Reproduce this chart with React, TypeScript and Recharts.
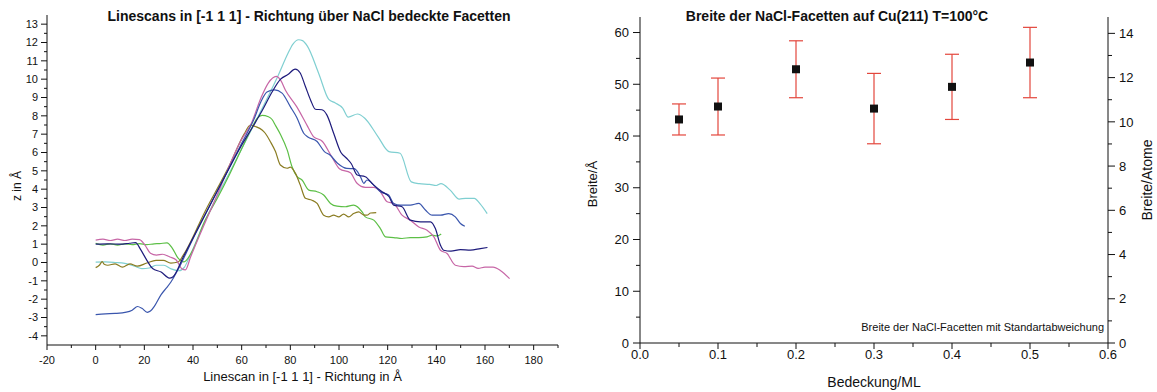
import React from 'react';
import { LineChart, Line, XAxis, YAxis, ScatterChart, Scatter, ErrorBar } from 'recharts';

const NARROW = '"Liberation Sans Narrow", "Arial Narrow", "Liberation Sans", Arial, sans-serif';
const INK = '#111';

// linescans, [x in Å, z in Å]
const scanCyan: [number, number][] = [
  [0, 0.02], [4, 0.03], [8, 0], [12, -0.05], [16, -0.2], [19, -0.33], [22, -0.3], [25, -0.15], [28, -0.15],
  [31, -0.35], [34.2, -0.45], [36.5, -0.25], [38.5, 0.3], [45, 2.3], [55, 4.9], [65, 7.5], [75, 10.2],
  [79, 11.4], [81, 11.9], [83.4, 12.15], [85, 12.1], [87, 11.8], [91.7, 10.3], [95.8, 8.9], [98.5, 8.7],
  [101.5, 8.42], [103.8, 7.93], [107.6, 8.1], [110.6, 7.87], [116, 6.87], [120.5, 6.05], [125.1, 5.96],
  [129.7, 4.4], [133, 4.3], [137.3, 4.26], [140, 4.2], [141.9, 4.3], [145.7, 3.95], [149.4, 3.46],
  [152, 3.5], [155.6, 3.5], [158, 3.2], [160.9, 2.67],
];

const scanNavy: [number, number][] = [
  [0, 1.0], [5, 1.02], [10, 1.0], [14, 1.05], [16.4, 1.08], [18.5, 0.7], [20.7, 0.2], [23.4, -0.33],
  [26.9, -0.52], [30.3, -0.85], [31.7, -0.79], [36, 0.3], [40.6, 1.49], [50, 3.9], [60, 6.4], [65, 7.5],
  [68.5, 8.3], [72.5, 9.3], [76, 10.0], [79, 10.25], [82, 10.55], [84, 10.35], [86.2, 9.6], [88.3, 8.87],
  [90.3, 8.36], [93, 8.33], [95, 8.05], [97.8, 7.05], [100.8, 6.0], [103, 5.7], [105, 5.4], [107.5, 4.77],
  [110.8, 4.68], [114.3, 4.22], [117.7, 3.86], [120.5, 3.6], [122.5, 3.13], [125.9, 3.04], [129.3, 2.31],
  [133.5, 2.22], [137.6, 2.22], [139.6, 1.85], [141.7, 0.94], [143, 0.67], [146, 0.62], [149.9, 0.7],
  [154, 0.68], [158.1, 0.76], [161, 0.82],
];

const scanPink: [number, number][] = [
  [0, 1.22], [3, 1.27], [6, 1.2], [9, 1.27], [12, 1.2], [15, 1.27], [18, 1.25], [20.5, 0.9], [22.5, 0.5],
  [25, 0.4], [27.5, 0.45], [30.5, 0.3], [33, 0.15], [35.4, -0.34], [36.9, -0.4], [39, 0.3], [50, 3.7],
  [59.5, 6.6], [64, 7.6], [68, 9.0], [71, 9.8], [74.2, 10.15], [76, 9.95], [78, 9.4], [82.6, 8.5],
  [87.2, 7.4], [89.5, 6.87], [93.2, 6.6], [97, 5.77], [100.3, 5.1], [104.7, 4.9], [107.4, 4.32],
  [110.8, 4.1], [114.3, 4.1], [117, 3.86], [119.8, 3.31], [122.5, 3.22], [125.9, 2.58], [129.3, 2.31],
  [132.8, 1.94], [136.2, 1.76], [139, 1.4], [141.7, 0.67], [144.4, 0.49], [147.8, -0.15], [151.3, -0.22],
  [154.7, -0.2], [157.2, -0.32], [160, -0.25], [163.3, -0.25], [166.3, -0.43], [170.1, -0.88],
];

const scanBlue: [number, number][] = [
  [0, -2.84], [4, -2.8], [8, -2.78], [12.6, -2.71], [15, -2.6], [17.2, -2.4], [19, -2.5], [21.2, -2.72],
  [22.5, -2.65], [24.3, -2.35], [26.9, -1.75], [29, -1.4], [31, -1.05], [33.8, -0.4], [40, 1.3],
  [50, 3.9], [60, 6.5], [65, 7.8], [68, 8.8], [70.4, 9.3], [73.5, 9.42], [76.6, 9.24], [80, 8.5],
  [82.7, 7.9], [85.5, 7.05], [87.2, 6.85], [91, 6.6], [94, 6.05], [96.3, 5.86], [99.4, 5.41],
  [103.2, 5.13], [106.3, 5.12], [108.8, 4.68], [110.2, 4.32], [111.5, 4.5], [114.3, 4.22], [117, 3.86],
  [120.4, 3.68], [122.5, 3.22], [125.2, 3.13], [129.3, 3.13], [132.8, 3.22], [135.5, 2.86],
  [138.3, 2.58], [141.7, 2.58], [145.1, 2.67], [147.8, 2.49], [149.9, 2.13], [151.7, 1.98],
];

const scanGreen: [number, number][] = [
  [0, 1.05], [3, 0.95], [6, 1.02], [9, 0.95], [12, 1.02], [15, 0.97], [18, 1.03], [21, 0.97], [24, 1.02],
  [26.3, 1.03], [29.3, 1.07], [31.6, 0.76], [33.8, 0.25], [36.3, 0.03], [39.2, 0.5], [45, 2.3],
  [50, 3.5], [55, 4.8], [60, 6.2], [64, 7.3], [66.3, 7.85], [68.4, 8.02], [71, 7.95], [72.5, 7.8],
  [74, 7.45], [75.9, 7.0], [78.7, 6.14], [80.7, 5.22], [82.8, 4.68], [84.8, 4.5], [87.6, 3.95],
  [91, 3.86], [93.7, 3.68], [96.5, 3.22], [99.2, 3.07], [102.6, 3.04], [106, 3.13], [109.5, 2.76],
  [110.8, 2.49], [114.3, 2.31], [117, 1.85], [119.1, 1.4], [122.5, 1.36], [125.9, 1.31], [129.3, 1.36],
  [132.8, 1.36], [136.2, 1.4], [138.3, 1.49], [140.3, 1.45], [142, 1.56],
];

const scanOlive: [number, number][] = [
  [0, -0.28], [1.5, -0.15], [2.7, 0.05], [3.5, -0.1], [5, -0.15], [8, -0.07], [11, -0.25], [14.1, -0.07],
  [17.1, -0.2], [21, -0.03], [24.8, 0.12], [27.8, 0.12], [30.9, -0.03], [33.9, 0.03], [36, 0.4],
  [45, 2.8], [55, 5.3], [61, 7.0], [63.6, 7.5], [65.6, 7.42], [68.4, 7.23], [69.7, 7.05], [71.8, 6.59],
  [73.9, 6.05], [75.9, 5.32], [78.7, 5.14], [80, 5.2], [82.1, 4.86], [84.1, 4.22], [86.2, 3.5],
  [88.9, 3.4], [91, 3.22], [93.7, 2.58], [95.8, 2.49], [97.8, 2.58], [99.9, 2.49], [101.9, 2.64],
  [104, 2.49], [106, 2.67], [108.1, 2.76], [110, 2.6], [111.5, 2.58], [113, 2.7], [115.3, 2.72],
];

const scans = [
  { id: 'cyan', color: '#7fcfd1', points: scanCyan },
  { id: 'green', color: '#5cbf46', points: scanGreen },
  { id: 'olive', color: '#8a7c22', points: scanOlive },
  { id: 'pink', color: '#c766a6', points: scanPink },
  { id: 'blue', color: '#3a56ad', points: scanBlue },
  { id: 'navy', color: '#1e1b7c', points: scanNavy },
];

const scanXTicks = [-20, -10, 0, 10, 20, 30, 40, 50, 60, 70, 80, 90, 100, 110, 120, 130, 140, 150, 160, 170, 180, 190];
const scanYTicks = Array.from({ length: 35 }, (_, i) => -4 + i * 0.5);

// facet widths vs coverage
const coverage = [0.05, 0.1, 0.2, 0.3, 0.4, 0.5];
const facetWidth = [43.2, 45.7, 52.9, 45.3, 49.5, 54.2];
const facetStd = [3.0, 5.5, 5.5, 6.8, 6.3, 6.8];

const covTicks = [0, 0.05, 0.1, 0.15, 0.2, 0.25, 0.3, 0.35, 0.4, 0.45, 0.5, 0.55, 0.6];
const widthTicks = [0, 5, 10, 15, 20, 25, 30, 35, 40, 45, 50, 55, 60];
const atomTicks = [0, 1, 2, 3, 4, 5, 6, 7, 8, 9, 10, 11, 12, 13, 14];

const facetData = coverage.map((x, i) => ({ x, y: facetWidth[i], err: facetStd[i] }));

type TickOpts = {
  side: 'left' | 'right' | 'bottom';
  major: (v: number) => boolean;
  fmt: (v: number) => string;
  size: number;
  long: number;
  short: number;
  gap: number;
};

function makeTick(o: TickOpts) {
  return function Tick(props: any) {
    const { x, y, payload } = props;
    const v = payload.value;
    const m = o.major(v);
    const len = m ? o.long : o.short;
    if (o.side === 'bottom') {
      return (
        <g>
          <line x1={x} x2={x} y1={y} y2={y + len} stroke={INK} />
          {m && (
            <text x={x} y={y + o.gap} textAnchor="middle" fontSize={o.size} fontFamily={NARROW} fill={INK}>
              {o.fmt(v)}
            </text>
          )}
        </g>
      );
    }
    const s = o.side === 'left' ? -1 : 1;
    return (
      <g>
        <line x1={x} x2={x + s * len} y1={y} y2={y} stroke={INK} />
        {m && (
          <text x={x + s * o.gap} y={y} dy="0.36em" textAnchor={s < 0 ? 'end' : 'start'} fontSize={o.size} fontFamily={NARROW} fill={INK}>
            {o.fmt(v)}
          </text>
        )}
      </g>
    );
  };
}

const xTitle = (text: string, dy: number, size: number) => (props: any) => {
  const vb = props.viewBox;
  return (
    <text x={vb.x + vb.width / 2} y={vb.y + dy} textAnchor="middle" fontSize={size} fontFamily={NARROW} fill={INK}>
      {text}
    </text>
  );
};

const yTitle = (text: string, dx: number, size: number, shift = 0) => (props: any) => {
  const vb = props.viewBox;
  const cx = vb.x + dx;
  const cy = vb.y + vb.height / 2 + shift;
  return (
    <text x={cx} y={cy} transform={`rotate(-90 ${cx} ${cy})`} textAnchor="middle" fontSize={size} fontFamily={NARROW} fill={INK}>
      {text}
    </text>
  );
};

const isInt = (v: number) => Math.abs(v - Math.round(v)) < 1e-6;

const ScanXTick = makeTick({ side: 'bottom', major: (v) => v % 20 === 0, fmt: String, size: 11, long: 5, short: 3, gap: 19 });
const ScanYTick = makeTick({ side: 'left', major: isInt, fmt: String, size: 11, long: 6, short: 3, gap: 9 });
const CovTick = makeTick({ side: 'bottom', major: (v) => Math.round(v * 100) % 10 === 0, fmt: (v) => v.toFixed(1), size: 13, long: 6, short: 4, gap: 16 });
const WidthTick = makeTick({ side: 'left', major: (v) => v % 10 === 0, fmt: String, size: 13, long: 7, short: 4, gap: 11 });
const AtomTick = makeTick({ side: 'right', major: (v) => v % 2 === 0, fmt: String, size: 13, long: 7, short: 4, gap: 11 });

const Square = (props: any) => <rect x={props.cx - 4} y={props.cy - 4} width={8} height={8} fill="#111" />;

export default function App() {
  return (
    <div style={{ position: 'absolute', left: 0, top: 0, width: 1157, height: 392, background: '#fff' }}>
      <div style={{ position: 'absolute', left: 0, top: 0 }}>
        <LineChart width={575} height={392} margin={{ top: 15, right: 17, bottom: 0, left: 0 }}>
          <text x={309} y={21} textAnchor="middle" fontSize={14} fontWeight="bold" fontFamily={NARROW} fill={INK}>
            Linescans in [-1 1 1] - Richtung über NaCl bedeckte Facetten
          </text>
          <XAxis
            type="number"
            dataKey="x"
            domain={[-20, 190]}
            ticks={scanXTicks}
            interval={0}
            tickSize={0}
            tickMargin={0}
            tickLine={false}
            tick={<ScanXTick />}
            axisLine={{ stroke: INK }}
            height={47}
            allowDataOverflow
            label={xTitle('Linescan in [-1 1 1] - Richtung in Å', 36, 13)}
          />
          <YAxis
            type="number"
            domain={[-4.5, 13.5]}
            ticks={scanYTicks}
            interval={0}
            tickSize={0}
            tickMargin={0}
            tickLine={false}
            tick={<ScanYTick />}
            axisLine={{ stroke: INK }}
            width={47}
            allowDataOverflow
            label={yTitle('z in Å', 21, 12, 6)}
          />
          {scans.map((s) => (
            <Line
              key={s.id}
              data={s.points.map(([x, z]) => ({ x, z }))}
              dataKey="z"
              type="monotone"
              stroke={s.color}
              strokeWidth={1.2}
              dot={false}
              activeDot={false}
              isAnimationActive={false}
            />
          ))}
        </LineChart>
      </div>

      <div style={{ position: 'absolute', left: 580, top: 0 }}>
        <ScatterChart width={577} height={392} margin={{ top: 17, right: 0, bottom: 0, left: 0 }}>
          <text x={257} y={21} textAnchor="middle" fontSize={14} fontWeight="bold" fontFamily={NARROW} fill={INK}>
            Breite der NaCl-Facetten auf Cu(211) T=100°C
          </text>
          <XAxis
            type="number"
            dataKey="x"
            domain={[0, 0.6]}
            ticks={covTicks}
            interval={0}
            tickSize={0}
            tickMargin={0}
            tickLine={false}
            tick={<CovTick />}
            axisLine={{ stroke: INK }}
            height={49}
            allowDataOverflow
            label={xTitle('Bedeckung/ML', 44, 14)}
          />
          <YAxis
            yAxisId="w"
            type="number"
            dataKey="y"
            domain={[0, 63]}
            ticks={widthTicks}
            interval={0}
            tickSize={0}
            tickMargin={0}
            tickLine={false}
            tick={<WidthTick />}
            axisLine={{ stroke: INK }}
            width={60}
            allowDataOverflow
            label={yTitle('Breite/Å', 17, 13, 4)}
          />
          <YAxis
            yAxisId="atoms"
            orientation="right"
            type="number"
            domain={[0, 14.74]}
            ticks={atomTicks}
            interval={0}
            tickSize={0}
            tickMargin={0}
            tickLine={false}
            tick={<AtomTick />}
            axisLine={{ stroke: INK }}
            width={49}
            allowDataOverflow
            label={yTitle('Breite/Atome', 44, 14)}
          />
          <Scatter yAxisId="w" data={facetData} shape={Square} isAnimationActive={false}>
            <ErrorBar dataKey="err" direction="y" stroke="#e3463c" strokeWidth={1.2} width={7} isAnimationActive={false} />
          </Scatter>
          <text x={524} y={331} textAnchor="end" fontSize={11} fontFamily={NARROW} fill={INK}>
            Breite der NaCl-Facetten mit Standartabweichung
          </text>
        </ScatterChart>
      </div>
    </div>
  );
}
